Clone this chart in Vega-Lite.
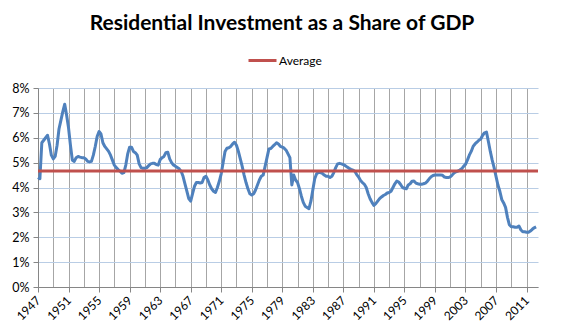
{
"$schema": "https://vega.github.io/schema/vega-lite/v6.json",
"width": 500, "height": 199,
"autosize": {"type": "none"},
"padding": {"left": 38, "top": 88, "right": 26, "bottom": 48},
"background": "white",
"config": {"font": "Lato", "view": {"stroke": null}, "axis": {"labelOverlap": false}, "axisY": {"labelOverlap": false}},
"title": {"text": "Residential Investment as a Share of GDP", "font": "Lato", "fontSize": 21, "fontWeight": "bold", "color": "#000000", "anchor": "middle", "frame": "group", "dx": -6, "offset": 11},
"layer": [
{"data": {"values": [
{"year":1947,"share":4.4},{"year":1947.25,"share":4.35},{"year":1947.5,"share":5.8},{"year":1947.75,"share":5.9},
{"year":1948,"share":6.0},{"year":1948.25,"share":6.1},{"year":1948.5,"share":5.75},{"year":1948.75,"share":5.3},
{"year":1949,"share":5.15},{"year":1949.25,"share":5.25},{"year":1949.5,"share":5.7},{"year":1949.75,"share":6.35},
{"year":1950,"share":6.7},{"year":1950.25,"share":7.05},{"year":1950.5,"share":7.35},{"year":1950.75,"share":6.9},
{"year":1951,"share":6.4},{"year":1951.25,"share":5.7},{"year":1951.5,"share":5.1},{"year":1951.75,"share":5.05},
{"year":1952,"share":5.2},{"year":1952.25,"share":5.25},{"year":1952.5,"share":5.22},{"year":1952.75,"share":5.2},
{"year":1953,"share":5.2},{"year":1953.25,"share":5.15},{"year":1953.5,"share":5.05},{"year":1953.75,"share":5.03},
{"year":1954,"share":5.05},{"year":1954.25,"share":5.3},{"year":1954.5,"share":5.65},{"year":1954.75,"share":6.05},
{"year":1955,"share":6.25},{"year":1955.25,"share":6.15},{"year":1955.5,"share":5.8},{"year":1955.75,"share":5.65},
{"year":1956,"share":5.55},{"year":1956.25,"share":5.45},{"year":1956.5,"share":5.3},{"year":1956.75,"share":5.1},
{"year":1957,"share":4.9},{"year":1957.25,"share":4.8},{"year":1957.5,"share":4.72},{"year":1957.75,"share":4.65},
{"year":1958,"share":4.57},{"year":1958.25,"share":4.6},{"year":1958.5,"share":4.9},{"year":1958.75,"share":5.35},
{"year":1959,"share":5.62},{"year":1959.25,"share":5.62},{"year":1959.5,"share":5.45},{"year":1959.75,"share":5.4},
{"year":1960,"share":5.3},{"year":1960.25,"share":4.95},{"year":1960.5,"share":4.8},{"year":1960.75,"share":4.77},
{"year":1961,"share":4.77},{"year":1961.25,"share":4.8},{"year":1961.5,"share":4.88},{"year":1961.75,"share":4.95},
{"year":1962,"share":4.97},{"year":1962.25,"share":4.97},{"year":1962.5,"share":4.92},{"year":1962.75,"share":4.9},
{"year":1963,"share":5.12},{"year":1963.25,"share":5.2},{"year":1963.5,"share":5.25},{"year":1963.75,"share":5.4},
{"year":1964,"share":5.42},{"year":1964.25,"share":5.15},{"year":1964.5,"share":5.0},{"year":1964.75,"share":4.9},
{"year":1965,"share":4.85},{"year":1965.25,"share":4.8},{"year":1965.5,"share":4.75},{"year":1965.75,"share":4.65},
{"year":1966,"share":4.45},{"year":1966.25,"share":4.15},{"year":1966.5,"share":3.85},{"year":1966.75,"share":3.55},
{"year":1967,"share":3.45},{"year":1967.25,"share":3.75},{"year":1967.5,"share":4.05},{"year":1967.75,"share":4.2},
{"year":1968,"share":4.2},{"year":1968.25,"share":4.18},{"year":1968.5,"share":4.2},{"year":1968.75,"share":4.4},
{"year":1969,"share":4.45},{"year":1969.25,"share":4.3},{"year":1969.5,"share":4.1},{"year":1969.75,"share":3.95},
{"year":1970,"share":3.85},{"year":1970.25,"share":3.8},{"year":1970.5,"share":4.0},{"year":1970.75,"share":4.25},
{"year":1971,"share":4.55},{"year":1971.25,"share":5.0},{"year":1971.5,"share":5.45},{"year":1971.75,"share":5.58},
{"year":1972,"share":5.6},{"year":1972.25,"share":5.65},{"year":1972.5,"share":5.75},{"year":1972.75,"share":5.82},
{"year":1973,"share":5.7},{"year":1973.25,"share":5.45},{"year":1973.5,"share":5.15},{"year":1973.75,"share":4.85},
{"year":1974,"share":4.5},{"year":1974.25,"share":4.2},{"year":1974.5,"share":3.95},{"year":1974.75,"share":3.75},
{"year":1975,"share":3.7},{"year":1975.25,"share":3.75},{"year":1975.5,"share":3.9},{"year":1975.75,"share":4.1},
{"year":1976,"share":4.3},{"year":1976.25,"share":4.45},{"year":1976.5,"share":4.5},{"year":1976.75,"share":4.85},
{"year":1977,"share":5.2},{"year":1977.25,"share":5.55},{"year":1977.5,"share":5.57},{"year":1977.75,"share":5.65},
{"year":1978,"share":5.72},{"year":1978.25,"share":5.8},{"year":1978.5,"share":5.75},{"year":1978.75,"share":5.65},
{"year":1979,"share":5.62},{"year":1979.25,"share":5.58},{"year":1979.5,"share":5.5},{"year":1979.75,"share":5.35},
{"year":1980,"share":5.2},{"year":1980.25,"share":4.1},{"year":1980.5,"share":4.5},{"year":1980.75,"share":4.3},
{"year":1981,"share":4.2},{"year":1981.25,"share":3.95},{"year":1981.5,"share":3.65},{"year":1981.75,"share":3.4},
{"year":1982,"share":3.25},{"year":1982.25,"share":3.2},{"year":1982.5,"share":3.15},{"year":1982.75,"share":3.45},
{"year":1983,"share":3.9},{"year":1983.25,"share":4.35},{"year":1983.5,"share":4.55},{"year":1983.75,"share":4.6},
{"year":1984,"share":4.6},{"year":1984.25,"share":4.57},{"year":1984.5,"share":4.5},{"year":1984.75,"share":4.45},
{"year":1985,"share":4.45},{"year":1985.25,"share":4.4},{"year":1985.5,"share":4.45},{"year":1985.75,"share":4.6},
{"year":1986,"share":4.8},{"year":1986.25,"share":4.95},{"year":1986.5,"share":4.97},{"year":1986.75,"share":4.95},
{"year":1987,"share":4.92},{"year":1987.25,"share":4.88},{"year":1987.5,"share":4.82},{"year":1987.75,"share":4.77},
{"year":1988,"share":4.73},{"year":1988.25,"share":4.7},{"year":1988.5,"share":4.65},{"year":1988.75,"share":4.52},
{"year":1989,"share":4.42},{"year":1989.25,"share":4.28},{"year":1989.5,"share":4.2},{"year":1989.75,"share":4.13},
{"year":1990,"share":4.0},{"year":1990.25,"share":3.75},{"year":1990.5,"share":3.55},{"year":1990.75,"share":3.4},
{"year":1991,"share":3.28},{"year":1991.25,"share":3.35},{"year":1991.5,"share":3.45},{"year":1991.75,"share":3.55},
{"year":1992,"share":3.62},{"year":1992.25,"share":3.68},{"year":1992.5,"share":3.72},{"year":1992.75,"share":3.78},
{"year":1993,"share":3.8},{"year":1993.25,"share":3.85},{"year":1993.5,"share":4.0},{"year":1993.75,"share":4.15},
{"year":1994,"share":4.26},{"year":1994.25,"share":4.22},{"year":1994.5,"share":4.12},{"year":1994.75,"share":4.0},
{"year":1995,"share":3.97},{"year":1995.25,"share":3.95},{"year":1995.5,"share":4.1},{"year":1995.75,"share":4.15},
{"year":1996,"share":4.25},{"year":1996.25,"share":4.26},{"year":1996.5,"share":4.18},{"year":1996.75,"share":4.15},
{"year":1997,"share":4.13},{"year":1997.25,"share":4.13},{"year":1997.5,"share":4.15},{"year":1997.75,"share":4.18},
{"year":1998,"share":4.25},{"year":1998.25,"share":4.35},{"year":1998.5,"share":4.43},{"year":1998.75,"share":4.48},
{"year":1999,"share":4.5},{"year":1999.25,"share":4.5},{"year":1999.5,"share":4.5},{"year":1999.75,"share":4.5},
{"year":2000,"share":4.49},{"year":2000.25,"share":4.42},{"year":2000.5,"share":4.4},{"year":2000.75,"share":4.4},
{"year":2001,"share":4.43},{"year":2001.25,"share":4.5},{"year":2001.5,"share":4.58},{"year":2001.75,"share":4.63},
{"year":2002,"share":4.66},{"year":2002.25,"share":4.7},{"year":2002.5,"share":4.75},{"year":2002.75,"share":4.85},
{"year":2003,"share":4.93},{"year":2003.25,"share":5.1},{"year":2003.5,"share":5.3},{"year":2003.75,"share":5.45},
{"year":2004,"share":5.65},{"year":2004.25,"share":5.75},{"year":2004.5,"share":5.82},{"year":2004.75,"share":5.9},
{"year":2005,"share":5.95},{"year":2005.25,"share":6.1},{"year":2005.5,"share":6.2},{"year":2005.75,"share":6.23},
{"year":2006,"share":5.85},{"year":2006.25,"share":5.45},{"year":2006.5,"share":5.1},{"year":2006.75,"share":4.8},
{"year":2007,"share":4.45},{"year":2007.25,"share":4.1},{"year":2007.5,"share":3.85},{"year":2007.75,"share":3.52},
{"year":2008,"share":3.38},{"year":2008.25,"share":3.2},{"year":2008.5,"share":2.8},{"year":2008.75,"share":2.5},
{"year":2009,"share":2.42},{"year":2009.25,"share":2.42},{"year":2009.5,"share":2.4},{"year":2009.75,"share":2.4},
{"year":2010,"share":2.45},{"year":2010.25,"share":2.3},{"year":2010.5,"share":2.22},{"year":2010.75,"share":2.22},
{"year":2011,"share":2.2},{"year":2011.25,"share":2.2},{"year":2011.5,"share":2.25},{"year":2011.75,"share":2.32},
{"year":2012,"share":2.38},{"year":2012.25,"share":2.42}
]},
"mark": {"type": "line", "color": "#4F81BD", "strokeWidth": 3, "strokeJoin": "round"},
"encoding": {
"x": {"field": "year", "type": "quantitative", "scale": {"domain": [1947, 2012.5], "nice": false, "zero": false},
"axis": {"values": [1947,1949,1951,1953,1955,1957,1959,1961,1963,1965,1967,1969,1971,1973,1975,1977,1979,1981,1983,1985,1987,1989,1991,1993,1995,1997,1999,2001,2003,2005,2007,2009,2011],
"labelExpr": "(datum.value - 1947) % 4 == 0 ? '' + datum.value : ''",
"tickOpacity": {"condition": {"test": "(datum.value - 1947) % 4 == 0", "value": 1}, "value": 0},
"labelAngle": -45, "labelAlign": "right", "labelBaseline": "middle", "labelFontSize": 12, "labelColor": "#000000", "labelPadding": 6, "labelOverlap": false, "labelFlush": false,
"tickSize": 5, "tickColor": "#868686", "domainColor": "#868686", "grid": true, "gridColor": "#A6A6A6", "title": null}},
"y": {"field": "share", "type": "quantitative", "scale": {"domain": [0, 8], "nice": false},
"axis": {"values": [0,1,2,3,4,5,6,7,8], "labelExpr": "datum.value + '%'", "labelFontSize": 12.5, "labelColor": "#000000", "labelPadding": 4, "labelOverlap": false, "labelFlush": false,
"tickSize": 5, "tickColor": "#868686", "domainColor": "#868686", "grid": true, "gridColor": "#B9CDE5", "title": null}}
}},
{"data": {"values": [{"series": "Average", "share": 4.66}]},
"mark": {"type": "rule", "strokeWidth": 3},
"encoding": {
"y": {"field": "share", "type": "quantitative",
"axis": {"values": [0,1,2,3,4,5,6,7,8], "labelExpr": "datum.value + '%'", "labelFontSize": 12.5, "labelColor": "#000000", "labelPadding": 4, "labelOverlap": false, "labelFlush": false,
"tickSize": 5, "tickColor": "#868686", "domainColor": "#868686", "grid": true, "gridColor": "#B9CDE5", "title": null}},
"color": {"field": "series", "type": "nominal", "scale": {"range": ["#C0504D"]},
"legend": {"orient": "none", "legendX": 209, "legendY": -43, "title": null, "symbolType": "stroke", "symbolStrokeWidth": 3, "symbolSize": 784, "labelFontSize": 12, "labelColor": "#000000", "labelOffset": 1}}
}}
]
}
